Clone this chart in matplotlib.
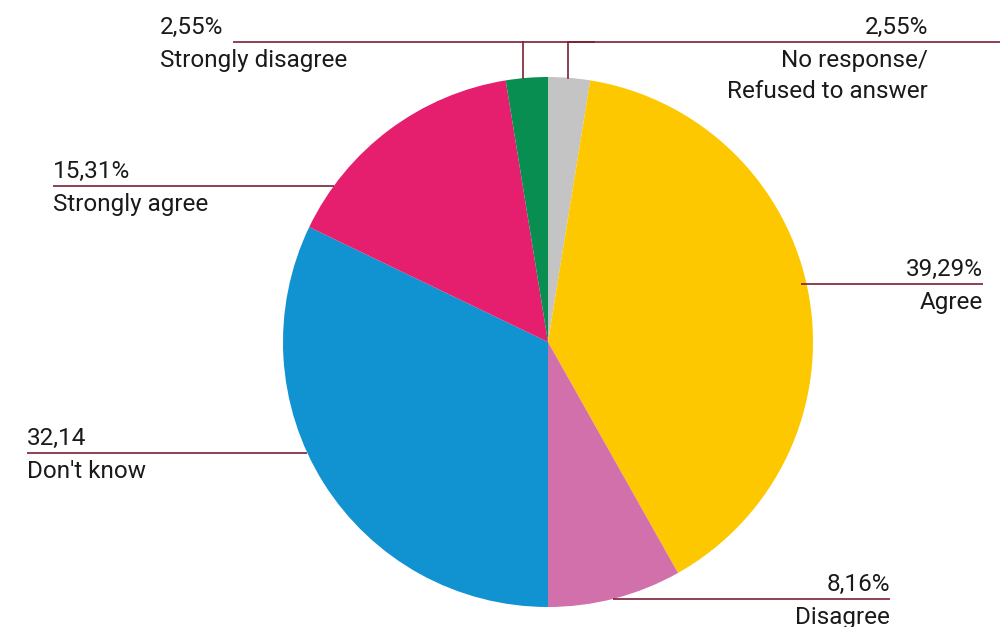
import numpy as np
import matplotlib
matplotlib.use('Agg')
import matplotlib.pyplot as plt

# survey answers, clockwise from 12 o'clock
labels = ["No response/\nRefused to answer", "Agree", "Disagree",
          "Don't know", "Strongly agree", "Strongly disagree"]
shares = [2.55, 39.29, 8.16, 32.14, 15.31, 2.55]
value_text = ["2,55%", "39,29%", "8,16%", "32,14", "15,31%", "2,55%"]
colors = ["#c4c4c4", "#fec800", "#d270ab", "#1192d1", "#e61e6e", "#098e52"]

LINE = "#7b1f33"
W, H = 1001, 627
CX, CY, R = 548, 342, 265
FS = 17.5

plt.rcParams['font.family'] = ['Roboto', 'DejaVu Sans']

fig = plt.figure(figsize=(W / 100, H / 100), dpi=100)
ax = fig.add_axes([0, 0, 1, 1])

# y axis runs downwards, so counterclock=True turns clockwise on screen
ax.pie(shares, colors=colors, startangle=-90, counterclock=True,
       center=(CX, CY), radius=R, wedgeprops=dict(linewidth=0))
ax.set_xlim(0, W)
ax.set_ylim(H, 0)
ax.set_aspect('equal')
ax.axis('off')


def edge_x(y, side):
    return CX + side * np.sqrt(R ** 2 - (y - CY) ** 2)


def edge_y(x):
    return CY - np.sqrt(R ** 2 - (x - CX) ** 2)


# label layout: (line y, line x0, line x1, text x, align)
layout = {
    0: (42, 568, 1000, 928, 'right'),
    1: (284, edge_x(284, 1) - 6, 983, 983, 'right'),
    2: (599, edge_x(599, 1), 890, 890, 'right'),
    3: (453, 27, edge_x(453, -1), 27, 'left'),
    4: (186, 53, edge_x(186, -1), 53, 'left'),
    5: (42, 233, 595, 160, 'left'),
}
drop_x = {0: 568, 5: 523}

for i, (ly, x0, x1, tx, ha) in layout.items():
    ax.plot([x0, x1], [ly, ly], color=LINE, lw=1.2, solid_capstyle='butt')
    if i in drop_x:
        dx = drop_x[i]
        ax.plot([dx, dx], [ly, edge_y(dx)], color=LINE, lw=1.2)
    ax.text(tx, ly - 8, value_text[i], ha=ha, va='baseline',
            fontsize=FS, color="#1a1a1a")
    for k, part in enumerate(labels[i].split("\n")):
        ax.text(tx, ly + 25 + 31 * k, part, ha=ha, va='baseline',
                fontsize=FS, color="#1a1a1a")

fig.savefig("out.png", dpi=100)
